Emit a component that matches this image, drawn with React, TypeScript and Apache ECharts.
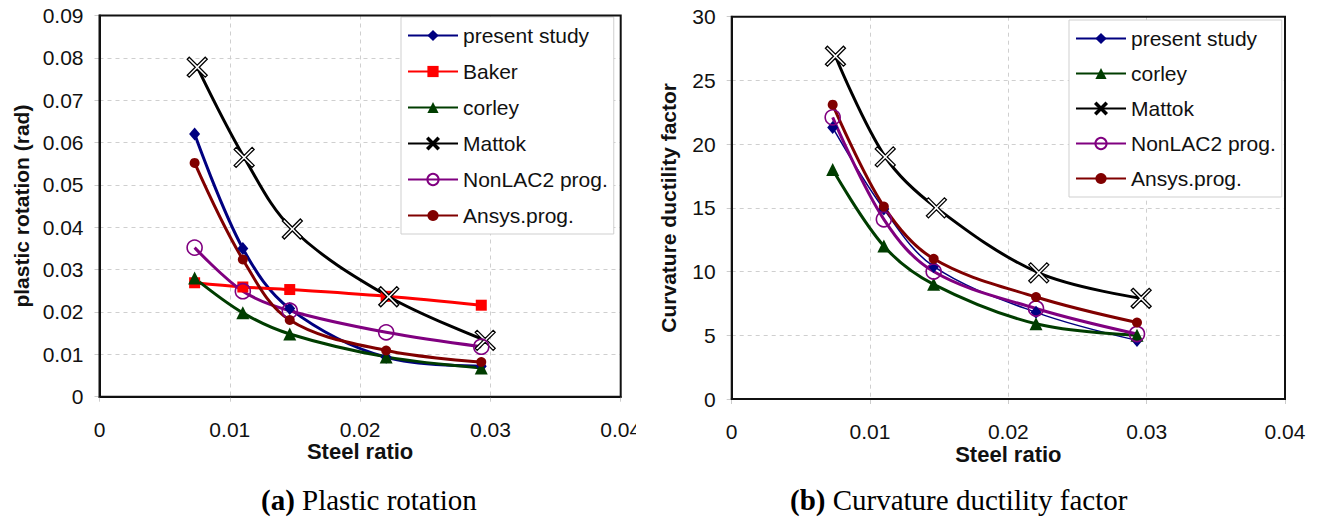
import React, { useEffect, useRef } from 'react';
import * as echarts from 'echarts';

// ---------- data ----------
const steelRatio = [0.0073, 0.011, 0.0146, 0.022, 0.0293];
const steelRatioMattok = [0.0075, 0.0111, 0.0148, 0.0222, 0.0296];
const xTicks = [0, 0.01, 0.02, 0.03, 0.04];

// (a) plastic rotation (rad)
const presentStudyA = [0.062, 0.035, 0.0208, 0.0093, 0.0072];
const bakerA = [0.0269, 0.0259, 0.0253, 0.0237, 0.0216];
const corleyA = [0.028, 0.0198, 0.0148, 0.0094, 0.0068];
const mattokA = [0.0778, 0.0565, 0.0396, 0.0236, 0.0133];
const nonlacA = [0.0352, 0.0249, 0.0203, 0.0152, 0.0118];
const ansysA = [0.0552, 0.0324, 0.0181, 0.0109, 0.0082];

// (b) curvature ductility factor
const presentStudyB = [21.3, 14.9, 10.4, 6.8, 4.6];
const corleyB = [18.0, 12.0, 9.0, 5.9, 5.0];
const mattokB = [26.9, 19.0, 15.0, 9.9, 7.9];
const nonlacB = [22.1, 14.1, 10.0, 7.1, 5.1];
const ansysB = [23.1, 15.1, 11.0, 8.0, 6.0];

const legendA = ['present study', 'Baker', 'corley', 'Mattok', 'NonLAC2 prog.', 'Ansys.prog.'];
const legendB = ['present study', 'corley', 'Mattok', 'NonLAC2 prog.', 'Ansys.prog.'];

// ---------- styles ----------
const SANS = "'Liberation Sans', Arial, sans-serif";
const SERIF = "'Liberation Serif', 'Times New Roman', serif";
const X_PATH = 'path://M2,0L10,8L18,0L20,2L12,10L20,18L18,20L10,12L2,20L0,18L8,10L0,2Z';

const pts = (xs: number[], ys: number[]) => xs.map((x, i) => [x, ys[i]]);

const fmt = (v: number) => (v === 0 ? '0' : String(+v.toFixed(3)));

function mk(name: string, xs: number[], ys: number[], kind: string, width = 3) {
  const base: any = {
    name,
    type: 'line',
    smooth: 0.35,
    data: pts(xs, ys),
    lineStyle: { width },
    emphasis: { disabled: true },
  };
  switch (kind) {
    case 'present':
      Object.assign(base, { symbol: 'diamond', symbolSize: [11, 13], itemStyle: { color: '#000080' }, lineStyle: { width, color: '#000080' } });
      break;
    case 'baker':
      Object.assign(base, { symbol: 'rect', symbolSize: 11, itemStyle: { color: '#ff0000' }, lineStyle: { width, color: '#ff0000' } });
      break;
    case 'corley':
      Object.assign(base, { symbol: 'triangle', symbolSize: 13, itemStyle: { color: '#003d00' }, lineStyle: { width, color: '#003d00' } });
      break;
    case 'mattok':
      Object.assign(base, { symbol: X_PATH, symbolSize: 20, itemStyle: { color: '#ffffff', borderColor: '#000', borderWidth: 1.3 }, lineStyle: { width, color: '#000' } });
      break;
    case 'nonlac':
      Object.assign(base, { symbol: 'circle', symbolSize: 15, itemStyle: { color: 'rgba(255,255,255,0)', borderColor: '#800080', borderWidth: 1.6 }, lineStyle: { width, color: '#800080' } });
      break;
    case 'ansys':
      Object.assign(base, { symbol: 'circle', symbolSize: 10, itemStyle: { color: '#800000' }, lineStyle: { width, color: '#800000' } });
      break;
  }
  return base;
}

function axes(gridLeft: number, gridTop: number, gridW: number, gridH: number, yMax: number, yInt: number, yName: string, yNameGap: number) {
  return {
    grid: {
      left: gridLeft, top: gridTop, width: gridW, height: gridH,
      show: true, borderColor: '#111', borderWidth: 0, backgroundColor: '#fff',
    },
    graphic: [
      {
        type: 'rect', silent: true, z: 50,
        shape: { x: gridLeft, y: gridTop, width: gridW, height: gridH },
        style: { fill: 'none', stroke: '#111', lineWidth: 2 },
      },
    ],
    xAxis: {
      type: 'value', min: xTicks[0], max: xTicks[xTicks.length - 1], interval: xTicks[1] - xTicks[0],
      name: 'Steel ratio', nameLocation: 'middle', nameGap: 44, nameMoveOverlap: false,
      nameTextStyle: { fontFamily: SANS, fontWeight: 'bold', fontSize: 22, color: '#111' },
      axisLine: { show: true, lineStyle: { color: '#111', width: 2 } },
      axisTick: { show: true, length: 5, lineStyle: { color: '#ccc' } },
      axisLabel: { fontFamily: SANS, fontSize: 21, color: '#111', margin: 22, formatter: fmt },
      splitLine: { show: true, lineStyle: { color: '#cfcfcf', type: [4, 4], width: 1 } },
    },
    yAxis: {
      type: 'value', min: 0, max: yMax, interval: yInt,
      name: yName, nameLocation: 'middle', nameGap: yNameGap,
      nameTextStyle: { fontFamily: SANS, fontWeight: 'bold', fontSize: 21, color: '#111' },
      axisLine: { show: true, lineStyle: { color: '#111', width: 2 } },
      axisTick: { show: true, length: 5, lineStyle: { color: '#ccc' } },
      axisLabel: { fontFamily: SANS, fontSize: 21, color: '#111', margin: 16, formatter: fmt },
      splitLine: { show: true, lineStyle: { color: '#cfcfcf', type: [4, 4], width: 1 } },
    },
  };
}

function legend(left: number, top: number, names: string[], gap: number) {
  return {
    orient: 'vertical', left, top, data: names,
    itemWidth: 50, itemHeight: 14, itemGap: gap,
    padding: [8, 6, 8, 6],
    backgroundColor: '#fff', borderColor: '#cfcfcf', borderWidth: 1,
    textStyle: { fontFamily: SANS, fontSize: 21, color: '#111', padding: [0, 0, 0, 0] },
    selectedMode: false,
  };
}

function caption(label: string, text: string, left: number) {
  return {
    text: `{b|${label}} ${text}`, left, top: 480,
    textStyle: {
      fontFamily: SERIF, fontSize: 29, fontWeight: 'normal', color: '#000',
      rich: { b: { fontFamily: SERIF, fontSize: 29, fontWeight: 'bold', color: '#000' } },
    },
  };
}

export default function App() {
  const leftRef = useRef<HTMLDivElement>(null);
  const rightRef = useRef<HTMLDivElement>(null);

  useEffect(() => {
    const cl = echarts.init(leftRef.current!, undefined, { renderer: 'svg' });
    const cr = echarts.init(rightRef.current!, undefined, { renderer: 'svg' });

    cl.setOption({
      animation: false,
      backgroundColor: '#fff',
      ...axes(99.5, 15.5, 521.2, 381.2, 0.09, 0.01, 'plastic rotation (rad)', 67),
      legend: legend(401, 17, legendA, 15),
      title: caption('(a)', 'Plastic rotation', 256),
      series: [
        mk('present study', steelRatio, presentStudyA, 'present'),
        mk('Baker', steelRatio, bakerA, 'baker'),
        mk('corley', steelRatio, corleyA, 'corley'),
        mk('Mattok', steelRatioMattok, mattokA, 'mattok'),
        mk('NonLAC2 prog.', steelRatio, nonlacA, 'nonlac'),
        mk('Ansys.prog.', steelRatio, ansysA, 'ansys'),
      ],
    });

    cr.setOption({
      animation: false,
      backgroundColor: '#fff',
      ...axes(91.7, 16.7, 553.3, 382.3, 30, 5, 'Curvature ductility factor', 53),
      legend: legend(429, 20, legendB, 14),
      title: caption('(b)', 'Curvature ductility factor', 145),
      series: [
        mk('present study', steelRatio, presentStudyB, 'present', 1.5),
        mk('corley', steelRatio, corleyB, 'corley'),
        mk('Mattok', steelRatioMattok, mattokB, 'mattok'),
        mk('NonLAC2 prog.', steelRatio, nonlacB, 'nonlac'),
        mk('Ansys.prog.', steelRatio, ansysB, 'ansys'),
      ],
    });

    return () => {
      cl.dispose();
      cr.dispose();
    };
  }, []);

  return (
    <div style={{ position: 'fixed', left: 0, top: 0, width: 1322, height: 517, background: '#fff' }}>
      <div style={{ position: 'absolute', left: 0, top: 0, width: 636, height: 517, overflow: 'hidden' }}>
        <div ref={leftRef} style={{ width: 661, height: 517 }} />
      </div>
      <div ref={rightRef} style={{ position: 'absolute', left: 640, top: 0, width: 682, height: 517 }} />
    </div>
  );
}
